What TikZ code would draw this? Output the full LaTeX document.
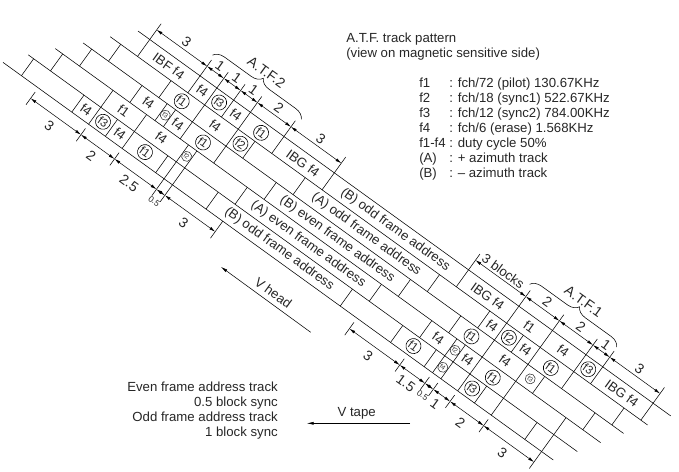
\documentclass[tikz,border=0pt]{standalone}
\usepackage{fontspec}
\setmainfont{Liberation Sans}
\usetikzlibrary{arrows.meta,decorations.pathreplacing}
\newcommand{\crossing}[3]{\foreach \n in {#1} \draw (\n,#2) -- (\n,#3);}
\tikzset{
	trackdir/.style={rotate=-35.85},
	blktext/.style={trackdir,font=\fontsize{13.2}{15}\selectfont,inner sep=0pt,text=black!85},
	circ/.style={blktext,draw=black,circle,minimum size=15pt,line width=.6pt,font=\fontsize{11.5}{13}\selectfont},
	smallcirc/.style={trackdir,draw=black!80,circle,minimum size=10pt,inner sep=0pt,font=\fontsize{6.5}{7}\selectfont,text=black!80},
	dimline/.style={{Latex[length=6pt,width=3pt]}-{Latex[length=6pt,width=3pt]},line width=.5pt},
	dimtext/.style={blktext,font=\fontsize{14}{16}\selectfont},
	halftext/.style={blktext,font=\fontsize{8.5}{10}\selectfont},
	plain/.style={anchor=base west,inner sep=0pt,font=\fontsize{13.2}{15}\selectfont,text=black!85},
}
\begin{document}
\begin{tikzpicture}[x=1pt,y=1pt,line width=.55pt]
	\useasboundingbox (0,0) rectangle (679,-471);
	\begin{scope}[shift={(149.75,-39.5)},rotate=-35.85,x=20.7pt,y=20.9pt]
		% tracks
		\foreach \k/\a/\b in {0/-.7/31.05,1/-1.63/30.4,2/-2.51/29.7,3/-3.44/29.06,4/-4.32/28.4,5/-5.1/27.7}
			\draw (\a,-\k) -- (\b,-\k);
		% block borders, track by track
		\crossing{0,3,4,5,6,8,11,19,22,24,26,27,30}{.93}{-1}
		\crossing{-1,2,4,6,7,10,18,21,22,23,24,26,29}{-1}{-2}
		\crossing{-2,1,2.5,3,4,6,9,17,20,22,24,25,28}{-2}{-3}
		\crossing{-3,0,2,4.5,5,8,16,19,20.5,21,22,24,27}{-3}{-4}
		\crossing{-4,-1,0,1,2,4,4.5,5,7,15,18,20,20.5,21,22,23,24,26,27}{-4}{-5}
		\crossing{-3,0,2,16,19,20.5,21,22,24}{-5.25}{-6}
		\crossing{4.5,5,8,27}{-5}{-6}
		% upper dimensions
		\foreach \a/\b in {0/3,3/4,4/5,5/6,6/8,8/11,19/22,22/24,24/26,26/27,27/30}
			\draw[dimline] (\a,.57) -- (\b,.57);
		\foreach \i/\n/\t in {1/1.5/3,2/3.5/1,3/4.5/1,4/5.5/1,5/7/2,6/9.5/3,7/23/2,8/25/2,9/26.5/1,10/28.5/3}
			\node[dimtext] (up\i) at (\n,.95) {\t};
		\node[blktext] (upblocks) at (20.4,.92) {3 blocks};
		% lower dimensions
		\foreach \a/\b in {-3/0,0/2,2/4.5,4.5/5,5/8,16/19,19/20.5,20.5/21,21/22,22/24,24/27}
			\draw[dimline] (\a,-5.62) -- (\b,-5.62);
		\foreach \i/\n/\t in {1/-1.5/3,2/1/2,3/3.25/2.5,4/6.5/3,5/17.5/3,6/19.75/1.5,7/21.5/1,8/23/2,9/25.5/3}
			\node[dimtext] (low\i) at (\n,-6.15) {\t};
		\node[halftext] (lowa) at (4.75,-6.15) {0.5};
		\node[halftext] (lowb) at (20.75,-6.15) {0.5};
		% braces
		\draw[decorate,decoration={brace,amplitude=11pt}] (2.9,1.15) -- (8.2,1.15);
		\draw[decorate,decoration={brace,amplitude=11pt}] (21.8,1.15) -- (27,1.15);
		\node[dimtext] (atf2) at (5.5,2) {A.T.F.2};
		\node[dimtext] (atf1) at (24.4,2) {A.T.F.1};
		% block names
		\foreach \i/\n/\y/\t in {1/1.5/-.5/IBF f4,2/3.5/-.5/f4,3/5.5/-.5/f4,4/9.5/-.5/IBG f4,5/20.5/-.5/IBG f4,6/23/-.5/f1,7/25/-.5/f4,8/28.5/-.5/IBG f4,
			9/5/-1.5/f4,10/21.5/-1.5/f4,11/23.5/-1.5/f4,
			12/1.75/-2.5/f4,13/3.5/-2.5/f4,14/23/-2.5/f4,
			15/1/-3.5/f1,16/3.25/-3.5/f4,17/19.75/-3.5/f4,18/21.5/-3.5/f4,
			19/-.5/-4.5/f4,20/1.5/-4.5/f4}
			\node[blktext] (blk\i) at (\n,\y) {\t};
		\foreach \i/\n/\y/\t in {1/4.5/-.5/f3,2/7/-.5/f1,3/26.5/-.5/f3,
			4/3/-1.5/f1,5/6.5/-1.5/f2,6/22.5/-1.5/f2,7/25/-1.5/f1,
			8/5/-2.5/f1,9/21/-2.5/f1,
			10/23/-3.5/f1,
			11/.5/-4.5/f3,12/3/-4.5/f1,13/19/-4.5/f1,14/22.5/-4.5/f3}
			\node[circ] (fc\i) at (\n,\y) {\t};
		\foreach \i/\n/\y/\t in {1/2.75/-2.5/f3,2/24.5/-2.5/f3,3/4.75/-3.5/f2,4/20.75/-3.5/f2,5/20.75/-4.5/f4}
			\node[smallcirc] (fs\i) at (\n,\y) {\t};
		% addresses
		\foreach \i/\n/\y/\t in {1/15/-.5/(B) odd frame address,2/14/-1.5/(A) odd frame address,3/13/-2.5/(B) even frame address,4/12/-3.5/(A) even frame address,5/11/-4.5/(B) odd frame address}
			\node[blktext] (addr\i) at (\n,\y) {\t};
	\end{scope}
	% notes
	\node[plain] (title1) at (346,-42.7) {A.T.F. track pattern};
	\node[plain] (title2) at (346,-57.7) {(view on magnetic sensitive side)};
	\foreach \i/\y/\a/\b in {1/-87.7/f1/{fch/72 (pilot) 130.67KHz},2/-102.7/f2/{fch/18 (sync1) 522.67KHz},3/-117.7/f3/{fch/12 (sync2) 784.00KHz},4/-132.7/f4/{fch/6 (erase) 1.568KHz},5/-147.7/f1-f4/duty cycle 50\%,6/-162.7/(A)/+ azimuth track,7/-177.7/(B)/– azimuth track}{
		\node[plain] (key\i) at (419,\y) {\a};
		\node[plain] (val\i) at (449,\y) {: \b};
	}
	\node[plain,anchor=base east] (note1) at (278,-391.7) {Even frame address track};
	\node[plain,anchor=base east] (note2) at (278,-406.7) {0.5 block sync};
	\node[plain,anchor=base east] (note3) at (278,-421.7) {Odd frame address track};
	\node[plain,anchor=base east] (note4) at (278,-436.7) {1 block sync};
	\node[plain,anchor=base east] (vtape) at (376,-416.7) {V tape};
	\coordinate (vtapea) at (410,-423.3);
	\coordinate (vtapeb) at (306.7,-423.3);
	\draw[-{Latex[length=7pt,width=3pt]}] (vtapea) -- (vtapeb);
	\coordinate (vheada) at (310.7,-332.3);
	\coordinate (vheadb) at (220.7,-266.7);
	\draw[-{Latex[length=7pt,width=3pt]}] (vheada) -- (vheadb);
	\node[plain,anchor=center,rotate=-35.85] (vhead) at (273.3,-292.7) {V head};
\end{tikzpicture}
\end{document}
